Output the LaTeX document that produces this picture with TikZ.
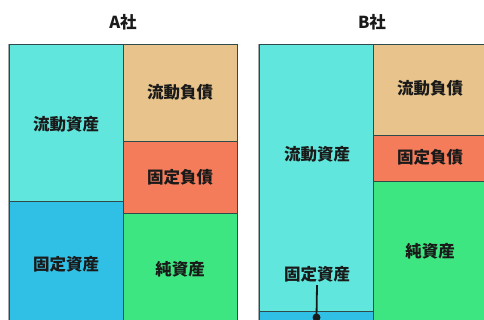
\documentclass[tikz,border=0pt]{standalone}
\usepackage{fontspec}
\setmainfont{Noto Sans CJK JP}
\definecolor{cacur}{HTML}{60E6DC}
\definecolor{cafix}{HTML}{30C0E6}
\definecolor{clcur}{HTML}{E8C48C}
\definecolor{clfix}{HTML}{F47C5A}
\definecolor{cnet}{HTML}{3DE680}
\definecolor{edge}{HTML}{2E4A4A}
\definecolor{txt}{HTML}{1A1A1A}
\tikzset{
  blk/.style={draw=edge, line width=0.8pt},
  lbl/.style={font=\fontsize{16.5}{18}\selectfont\bfseries, text=txt, inner sep=0pt},
  ttl/.style={font=\fontsize{16.5}{18}\selectfont\bfseries, text=txt, inner sep=0pt},
}
\begin{document}
\begin{tikzpicture}[x=1pt,y=-1pt]
\useasboundingbox (0,0) rectangle (484,320);
\fill[white] (0,0) rectangle (484,320);
\clip (0,0) rectangle (484,320);
% Company A
\node[ttl] (ta) at (123,22) {A社};
\draw[blk, fill=cacur] (9,44) rectangle (123,201);
\draw[blk, fill=cafix] (9,201) rectangle (123,330);
\draw[blk, fill=clcur] (123,44) rectangle (237,141);
\draw[blk, fill=clfix] (123,141) rectangle (237,213);
\draw[blk, fill=cnet] (123,213) rectangle (237,330);
\draw[gray!70, line width=1.2pt] (8.2,44) -- (8.2,330);
\node[lbl] (aca) at (66,124) {流動資産};
\node[lbl] (afa) at (66,264) {固定資産};
\node[lbl] (acl) at (180,92) {流動負債};
\node[lbl] (afl) at (180,177) {固定負債};
\node[lbl] (ana) at (180,269) {純資産};
% Company B
\node[ttl] (tb) at (372,22) {B社};
\draw[blk, fill=cacur] (259.5,44) rectangle (373,311);
\draw[blk, fill=cafix] (259.5,311) rectangle (373,330);
\draw[blk, fill=clcur] (373,44) rectangle (490,135);
\draw[blk, fill=clfix] (373,135) rectangle (490,181);
\draw[blk, fill=cnet] (373,181) rectangle (490,330);
\draw[gray!70, line width=1.2pt] (258.7,44) -- (258.7,330);
\node[lbl] (bca) at (317,154) {流動資産};
\node[lbl] (bfa) at (317,274) {固定資産};
\node[lbl] (bcl) at (430,88) {流動負債};
\node[lbl] (bfl) at (430,157) {固定負債};
\node[lbl] (bna) at (430,251) {純資産};
\coordinate (bdot) at (316.5,317.5);
\draw[txt, line width=1.8pt] (bfa.south) ++(0,3) -- (bdot);
\fill[txt] (bdot) circle (4);
\end{tikzpicture}
\end{document}
